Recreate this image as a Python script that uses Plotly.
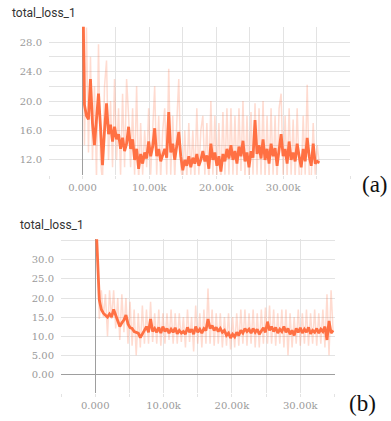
import plotly.graph_objects as go

STEP = 300

# Panel (a): smoothed and raw total loss
smooth_a = [40, 19.5, 18.0, 17.5, 23.0, 17.0, 14.0, 17.5, 21.0, 16.5,
            11.3, 16.0, 19.7, 15.5, 16.8, 14.5, 16.5, 14.8, 15.5, 13.5,
            15.0, 13.2, 14.2, 16.5, 13.5, 14.8, 12.0, 13.5, 10.8, 12.8,
            11.5, 13.0, 12.2, 14.5, 12.5, 13.8, 16.3, 12.5, 13.5, 11.8,
            12.8, 13.5, 12.3, 18.5, 13.0, 14.2, 12.0, 13.8, 15.8, 12.5,
            10.6, 12.0, 11.2, 12.5, 11.0, 12.3, 11.5, 12.8, 11.2, 12.0,
            13.2, 11.8, 12.6, 10.8, 14.2, 12.0, 13.0, 11.2, 12.5, 10.4,
            12.8, 11.8, 13.5, 12.2, 14.0, 12.0, 13.2, 11.5, 13.8, 12.5,
            14.6, 11.8, 13.0, 11.0, 13.2, 12.3, 17.4, 12.8, 14.0, 12.2,
            14.8, 12.0, 13.5, 11.5, 14.2, 12.5, 13.6, 11.2, 13.8, 15.5,
            12.5, 13.5, 11.5, 14.5, 12.0, 13.0, 11.8, 14.2, 12.5, 11.0,
            13.5, 11.8, 15.0, 12.5, 11.2, 14.2, 11.5, 11.8, 11.6]
raw_a = [45, 14, 30, 13, 26, 12, 22, 9.5, 27.7, 12,
         9, 22, 25.5, 12, 20, 11, 23, 12, 19, 10,
         21, 11, 23, 18, 11, 19, 10, 22, 9, 17,
         10, 16, 11, 19, 10, 17, 22, 10, 18, 9.5,
         16, 19, 10, 24.4, 10, 18, 9.5, 17, 23, 11,
         9, 16, 9.5, 17, 10, 16, 9.5, 19, 10, 16,
         18, 10, 17, 9, 20, 10, 18, 9.5, 17, 9,
         18.5, 10, 19, 10, 19, 10, 18, 9.5, 19, 10.5,
         20, 9.5, 18, 9, 18.5, 10, 19.7, 10, 19, 10,
         20, 9.5, 18, 9.5, 19, 10, 18, 9, 19, 21,
         10, 18, 9.5, 19, 10, 17.5, 9.5, 19, 10, 9,
         18, 10, 22.2, 10, 9.5, 17, 10, 14, 11.5]

# Panel (b): smoothed and raw total loss
smooth_b = [45, 30, 19.5, 17.0, 16.0, 15.5, 15.0, 15.8, 15.0, 17.0,
            15.5, 14.0, 12.5, 13.5, 14.2, 15.5, 13.2, 12.2, 12.0, 11.2,
            11.0, 10.8, 9.6, 10.5, 11.5, 12.5, 11.0, 14.5, 11.2, 12.0,
            11.0, 12.3, 10.8, 12.5, 11.2, 12.0, 10.8, 11.8, 11.0, 12.2,
            10.6, 11.5, 10.8, 11.2, 10.5, 12.3, 11.0, 11.8, 10.5, 12.5,
            11.0, 11.8, 10.8, 12.0, 11.5, 14.5, 12.0, 12.8, 11.5, 12.3,
            11.2, 12.0, 11.0, 11.5, 10.2, 10.8, 9.5, 10.5, 9.8, 11.0,
            10.2, 11.5, 10.8, 12.0, 11.2, 11.8, 10.8, 12.0, 11.0, 11.8,
            10.5, 11.5, 12.2, 11.0, 13.8, 11.5, 12.5, 11.2, 12.3, 10.8,
            11.8, 11.2, 12.5, 11.0, 12.0, 10.5, 11.5, 10.2, 12.0, 11.0,
            12.2, 10.8, 11.8, 11.0, 12.3, 10.6, 11.5, 11.0, 12.0, 10.8,
            11.8, 11.2, 12.5, 9.0, 14.0, 10.8, 11.5]
raw_b = [45, 35, 14.5, 22, 15, 21, 10, 22, 14.5, 22,
         12, 20, 9, 21, 11, 20, 8, 19, 7.5, 17,
         5, 16, 7, 18, 8, 17, 8, 19, 8.5, 16,
         8, 17, 7.5, 16, 8, 16, 9, 17, 8, 16,
         8, 16, 8.5, 15, 7, 17, 8.5, 15, 6, 18,
         8, 16, 7, 17, 8, 22.5, 8, 17, 7.5, 16,
         8, 16, 7, 15, 7.5, 16, 6.5, 15, 7, 16,
         7.5, 17, 8, 17, 7.5, 16, 8, 17, 7, 16,
         7, 17, 8, 17.5, 8, 18, 8, 17, 7.5, 16,
         8, 17, 7, 17, 5, 16, 7, 15, 8, 17,
         7.5, 16, 8, 17, 7.5, 16, 8, 17, 7.5, 16,
         8, 17, 7, 21, 5, 22, 11]

x_a = [i * STEP for i in range(len(smooth_a))]
x_b = [i * STEP for i in range(len(smooth_b))]

ticks_x = [0, 10000, 20000, 30000]
ticktext_x = ["0.000", "10.00k", "20.00k", "30.00k"]
ticks_y_a = [12, 16, 20, 24, 28]
ticktext_y_a = ["12.0", "16.0", "20.0", "24.0", "28.0"]
ticks_y_b = [0, 5, 10, 15, 20, 25, 30]
ticktext_y_b = ["0.00", "5.00", "10.0", "15.0", "20.0", "25.0", "30.0"]

ORANGE = "#ff7043"
RAW = "rgba(255,112,67,0.25)"
GRID = "#e3e3e3"
TICKFONT = dict(family="DejaVu Serif", size=10, color="#9a9a9a")

W, H = 391, 421

def dom_x(l, r):
    return [l / W, r / W]

def dom_y(t, b):
    return [(H - b) / H, (H - t) / H]

fig = go.Figure()
fig.add_trace(go.Scatter(x=x_a, y=raw_a, mode="lines", line=dict(color=RAW, width=1.5),
                         xaxis="x", yaxis="y", hoverinfo="skip"))
fig.add_trace(go.Scatter(x=x_a, y=smooth_a, mode="lines", line=dict(color=ORANGE, width=2.8),
                         xaxis="x", yaxis="y"))
fig.add_trace(go.Scatter(x=x_b, y=raw_b, mode="lines", line=dict(color=RAW, width=1.5),
                         xaxis="x2", yaxis="y2", hoverinfo="skip"))
fig.add_trace(go.Scatter(x=x_b, y=smooth_b, mode="lines", line=dict(color=ORANGE, width=2.8),
                         xaxis="x2", yaxis="y2"))

common_x = dict(tickvals=ticks_x, ticktext=ticktext_x, tickfont=TICKFONT,
                showgrid=True, gridcolor=GRID, gridwidth=1,
                ticks="outside", ticklen=3, tickcolor=GRID,
                zeroline=True, zerolinecolor="#9e9e9e", zerolinewidth=1,
                showline=False,
                minor=dict(dtick=5000, tick0=0, showgrid=True, gridcolor=GRID,
                           ticks="outside", ticklen=3, tickcolor=GRID))

fig.update_layout(
    width=W, height=H, margin=dict(l=0, r=0, t=0, b=0),
    paper_bgcolor="white", plot_bgcolor="white", showlegend=False,
    xaxis=dict(domain=dom_x(49, 350), range=[-5000, 40000], anchor="y", **common_x),
    yaxis=dict(domain=dom_y(26.7, 175), range=[9.95, 30.1], anchor="x",
               tickvals=ticks_y_a, ticktext=ticktext_y_a, tickfont=TICKFONT,
               showgrid=True, gridcolor=GRID, zeroline=False, ticks="",
               ticklabelstandoff=6,
               minor=dict(dtick=2, tick0=10, showgrid=True, gridcolor=GRID)),
    xaxis2=dict(domain=dom_x(61, 334.5), range=[-5000, 35000], anchor="y2", **common_x),
    yaxis2=dict(domain=dom_y(239.3, 393.3), range=[-5, 35.4], anchor="x2",
                tickvals=ticks_y_b, ticktext=ticktext_y_b, tickfont=TICKFONT,
                showgrid=True, gridcolor=GRID, zeroline=True,
                zerolinecolor="#9e9e9e", zerolinewidth=1, ticks="",
                ticklabelstandoff=6,
                minor=dict(dtick=5, tick0=0, showgrid=True, gridcolor=GRID)),
    annotations=[
        dict(text="total_loss_1", x=10 / W, y=(H - 13) / H, xref="paper", yref="paper",
             xanchor="left", yanchor="middle", showarrow=False,
             font=dict(family="Roboto", size=12, color="#333333")),
        dict(text="total_loss_1", x=18 / W, y=(H - 225) / H, xref="paper", yref="paper",
             xanchor="left", yanchor="middle", showarrow=False,
             font=dict(family="Roboto", size=12, color="#333333")),
        dict(text="(a)", x=390 / W, y=(H - 184) / H, xref="paper", yref="paper",
             xanchor="right", yanchor="middle", showarrow=False,
             font=dict(family="Liberation Serif", size=23, color="#111111")),
        dict(text="(b)", x=378 / W, y=(H - 403) / H, xref="paper", yref="paper",
             xanchor="right", yanchor="middle", showarrow=False,
             font=dict(family="Liberation Serif", size=23, color="#111111")),
    ],
)

fig.write_html("out.html", config={"displayModeBar": False})

# remove the default page margin so the figure sits at the window's top-left corner
with open("out.html", encoding="utf-8") as f:
    html = f.read()
html = html.replace("<head>", "<head><style>html,body{margin:0;padding:0;overflow:hidden;}</style>", 1)
with open("out.html", "w", encoding="utf-8") as f:
    f.write(html)
